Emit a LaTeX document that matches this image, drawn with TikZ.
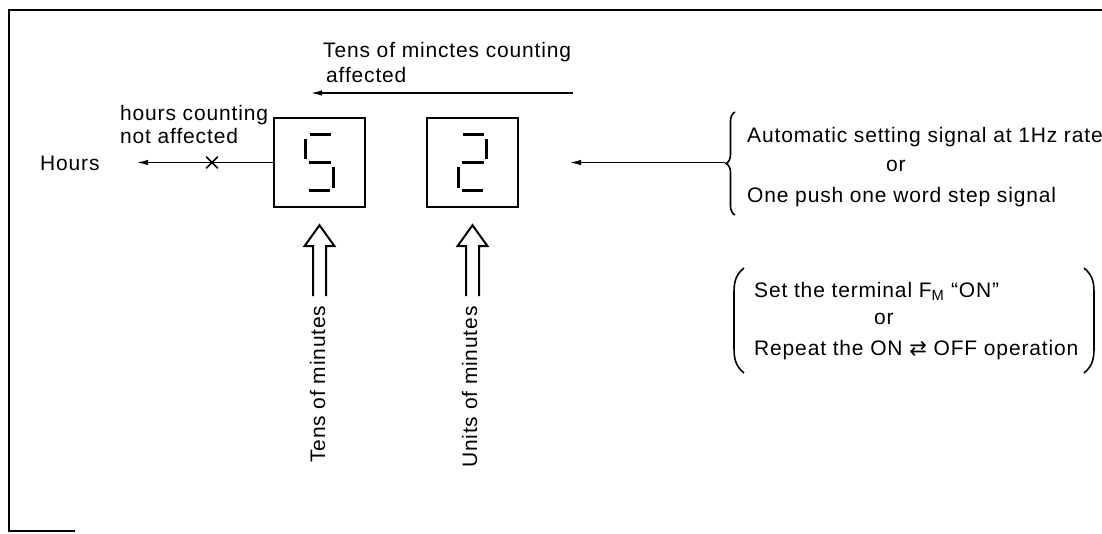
\documentclass[tikz,border=0pt]{standalone}
\usepackage{fontspec}
\setmainfont{Liberation Sans}[LetterSpace=4]
\newfontfamily\arrfont{DejaVu Sans}
\usetikzlibrary{arrows.meta,decorations.pathreplacing,shapes.misc}

\begin{document}
\begin{tikzpicture}[x=1pt, y=-1pt,
  txt/.style={inner sep=0pt, anchor=base west, font=\fontsize{21}{25}\selectfont},
  vtxt/.style={txt, rotate=90},
  digbox/.style={draw, line width=2.4pt, minimum width=91pt, minimum height=89pt, inner sep=0pt},
  seg/.style={line width=3.5pt},
  sig/.style={line width=1.8pt, -{Latex[length=12pt,width=5.5pt]}},
  hollow/.style={line width=2pt, line join=miter},
  paren/.style={line width=1.6pt}
  ]
  \useasboundingbox (0,0) rectangle (1102,533);
  % frame
  \draw[line width=2.5pt] (1102,10) -- (9,10) -- (9,531) -- (75,531);

  % display digits
  \node[digbox] (five) at (319.5,162.5) {};
  \node[digbox] (two)  at (472.5,162.5) {};
  \begin{scope}[shift={(five.center)}]
    \foreach \xa/\ya/\xb/\yb in {-10/-28/11/-28, -14/-24/-14/-4, -11/0/11/0, 14/4/14/25, -11/28/10/28}
      \draw[seg] (\xa,\ya) -- (\xb,\yb);
  \end{scope}
  \begin{scope}[shift={(two.center)}]
    \foreach \xa/\ya/\xb/\yb in {-10/-28/11/-28, 14/-24/14/-4, -11/0/11/0, -14/4/-14/25, -11/28/10/28}
      \draw[seg] (\xa,\ya) -- (\xb,\yb);
  \end{scope}

  % labels
  \node[txt] (title1) at (323,57) {Tens of minctes counting};
  \node[txt] (title2) at (326,82) {affected};
  \node[txt] (hc1) at (120,120) {hours counting};
  \node[txt] (hc2) at (120,143) {not affected};
  \node[txt] (hrs) at (40,170) {Hours};
  \node[txt] (auto) at (747,142) {Automatic setting signal at 1Hz rate};
  \node[txt] (or1) at (886,171) {or};
  \node[txt] (push) at (747,202) {One push one word step signal};
  \node[txt] (setfm) at (754,297) {Set the terminal F\textsubscript{M} “ON”};
  \node[txt] (or2) at (874,324) {or};
  \node[txt] (rep) at (754,355) {Repeat the ON {\arrfont ⇄} OFF operation};
  \node[vtxt] (tenslbl) at (325,463) {Tens of minutes};
  \node[vtxt] (unitslbl) at (477,468) {Units of minutes};

  % carry arrows
  \coordinate (topstart) at (573,93);
  \coordinate (topend) at (310,93);
  \draw[sig] (topstart) -- (topend);
  \coordinate (hrsend) at (136,162.5);
  \node[draw, cross out, minimum size=10pt, inner sep=0pt, line width=1.6pt] (cut) at (212,162.5) {};
  \draw[sig] (five.west) -- (hrsend);

  % input signal
  \coordinate (bracetip) at (725,162.5);
  \coordinate (sigend) at (569,162.5);
  \draw[sig] (bracetip) -- (sigend);
  \draw[line width=1.6pt, decorate, decoration={brace, amplitude=9pt}] (735,215) -- (735,112);
  \draw[paren] (744,268) .. controls (734,276) and (734,285) .. (734,295) -- (734,345) .. controls (734,356) and (734,365) .. (744,373);
  \draw[paren] (1084,268) .. controls (1094,276) and (1094,285) .. (1094,295) -- (1094,345) .. controls (1094,356) and (1094,365) .. (1084,373);

  % hollow setting arrows
  \foreach \d in {five,two}
    \draw[hollow, shift={([yshift=-17pt]\d.south)}] (-6.5,71) -- (-6.5,21) -- (-15,21) -- (0,0) -- (15,21) -- (6.5,21) -- (6.5,71);
\end{tikzpicture}
\end{document}
